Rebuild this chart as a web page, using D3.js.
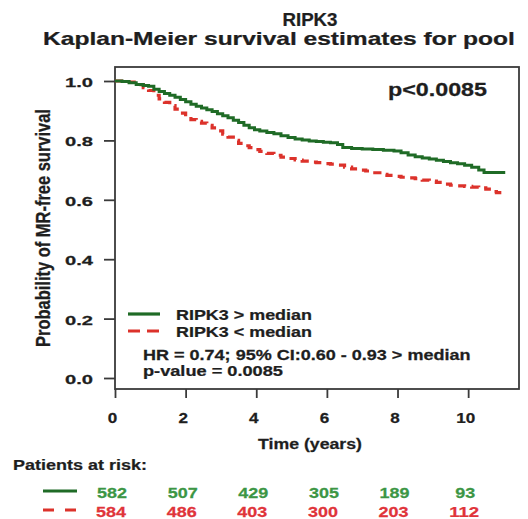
<!DOCTYPE html>
<html>
<head>
<meta charset="utf-8">
<script src="https://cdn.jsdelivr.net/npm/d3@7"></script>
<style>
  html, body { margin: 0; padding: 0; background: #fff; }
  svg { display: block; font-family: "Liberation Sans", Arial, sans-serif; font-weight: bold; }
</style>
</head>
<body>
<svg id="chart" width="528" height="519"></svg>
<script>
// ---- data ----
const highTimes = [0, 0.2, 0.4, 0.6, 0.8, 0.95, 1.1, 1.25, 1.4, 1.55, 1.7, 1.85, 2.0, 2.15, 2.3, 2.45, 2.6, 2.75, 2.9, 3.05, 3.2, 3.35, 3.5, 3.65, 3.8, 3.95, 4.1, 4.3, 4.5, 4.7, 4.9, 5.1, 5.3, 5.5, 5.7, 5.9, 6.1, 6.3, 6.45, 6.7, 7.0, 7.3, 7.6, 7.9, 8.1, 8.3, 8.5, 8.7, 8.9, 9.1, 9.3, 9.5, 9.7, 9.9, 10.1, 10.3, 10.45, 11.05];
const highSurv  = [1.0, 0.998, 0.994, 0.988, 0.985, 0.982, 0.972, 0.965, 0.958, 0.952, 0.945, 0.938, 0.930, 0.922, 0.915, 0.909, 0.903, 0.897, 0.890, 0.883, 0.876, 0.868, 0.860, 0.851, 0.843, 0.836, 0.832, 0.827, 0.822, 0.816, 0.810, 0.805, 0.801, 0.798, 0.796, 0.794, 0.792, 0.786, 0.776, 0.773, 0.771, 0.769, 0.767, 0.764, 0.758, 0.751, 0.745, 0.741, 0.737, 0.733, 0.729, 0.725, 0.721, 0.716, 0.710, 0.700, 0.692, 0.692];
const lowTimes  = [0, 0.3, 0.6, 0.8, 0.95, 1.1, 1.25, 1.4, 1.55, 1.7, 1.85, 2.0, 2.15, 2.3, 2.45, 2.6, 2.75, 2.9, 3.05, 3.2, 3.35, 3.5, 3.65, 3.8, 3.95, 4.1, 4.3, 4.5, 4.7, 4.9, 5.1, 5.3, 5.5, 5.7, 5.9, 6.1, 6.3, 6.5, 6.7, 6.9, 7.1, 7.3, 7.5, 7.7, 7.9, 8.1, 8.3, 8.5, 8.7, 8.9, 9.1, 9.3, 9.5, 9.7, 9.9, 10.1, 10.3, 10.5, 10.7, 10.8, 10.95];
const lowSurv   = [1.0, 0.996, 0.988, 0.978, 0.968, 0.952, 0.940, 0.928, 0.917, 0.905, 0.892, 0.880, 0.870, 0.864, 0.858, 0.851, 0.842, 0.832, 0.821, 0.811, 0.800, 0.790, 0.782, 0.776, 0.769, 0.763, 0.756, 0.750, 0.744, 0.739, 0.734, 0.730, 0.727, 0.725, 0.722, 0.720, 0.717, 0.710, 0.704, 0.700, 0.697, 0.691, 0.686, 0.682, 0.679, 0.676, 0.674, 0.671, 0.666, 0.663, 0.659, 0.653, 0.649, 0.647, 0.645, 0.643, 0.640, 0.636, 0.628, 0.624, 0.623];
const xTicks = [0, 2, 4, 6, 8, 10];
const yTicks = [0.0, 0.2, 0.4, 0.6, 0.8, 1.0];
const riskTimes = [0, 2, 4, 6, 8, 10];
const riskHigh = [582, 507, 429, 305, 189, 93];
const riskLow  = [584, 486, 403, 300, 203, 112];
const seriesNames = ["RIPK3 > median", "RIPK3 < median"];
const titleLines = ["RIPK3", "Kaplan-Meier survival estimates for pool"];
const statLines = ["HR = 0.74; 95% CI:0.60 - 0.93 > median", "p-value = 0.0085"];
const pLabel = "p<0.0085";

// ---- styles ----
const GREEN = "#1f6b26", RED = "#dc322b";
const GREEN_T = "#3c9645", RED_T = "#e0343a";
const INK = "#1e1e1e", FRAME = "#3a3a3a";

const svg = d3.select("#chart");
const x = d3.scaleLinear().domain([0, 11.44]).range([115, 519]);
const y = d3.scaleLinear().domain([0, 1]).range([378, 81]);
const yTop = 67, yBot = 389;

// text helper: draws text then stretches horizontally to target width
function txt(px, py, str, size, anchor, width, color) {
  const t = svg.append("text")
    .attr("font-size", size)
    .attr("text-anchor", anchor || "start")
    .attr("fill", color || INK)
    .attr("stroke", color || INK)
    .attr("stroke-width", 0.25)
    .text(str);
  const L = t.node().getComputedTextLength();
  const sx = width ? width / L : 1.25;
  t.attr("transform", `translate(${px},${py}) scale(${sx},1)`);
  return t;
}

// titles
txt(310, 26, titleLines[0], 17.5, "middle", 55);
txt(279, 45, titleLines[1], 18, "middle", 472);

// frame
svg.append("rect")
  .attr("x", x(0)).attr("y", yTop)
  .attr("width", x.range()[1] - x(0)).attr("height", yBot - yTop)
  .attr("fill", "none").attr("stroke", FRAME).attr("stroke-width", 1.8);

// y axis
const yAxis = d3.axisLeft(y).tickValues(yTicks).tickSize(11).tickFormat(() => "");
const gy = svg.append("g").attr("transform", `translate(${x(0)},0)`).call(yAxis);
gy.select(".domain").remove();
gy.selectAll(".tick line").attr("stroke", FRAME).attr("stroke-width", 1.8);
yTicks.forEach(v => txt(93, y(v) + 6, d3.format(".1f")(v), 13, "end", 28));

// x axis
const xAxis = d3.axisBottom(x).tickValues(xTicks).tickSize(9).tickFormat(() => "");
const gx = svg.append("g").attr("transform", `translate(0,${yBot})`).call(xAxis);
gx.select(".domain").remove();
gx.selectAll(".tick line").attr("stroke", FRAME).attr("stroke-width", 1.8);
xTicks.forEach(v => txt(x(v) - 2.5, 423, String(v), 14, "middle", String(v).length * 9.5));

// axis titles
txt(310, 449, "Time (years)", 14.5, "middle", 104);
const yl = svg.append("text")
  .attr("font-size", 16).attr("text-anchor", "middle").attr("fill", INK)
  .attr("stroke", INK).attr("stroke-width", 0.25)
  .text("Probability of MR-free survival");
const yLen = yl.node().getComputedTextLength();
yl.attr("transform", `translate(50,228) rotate(-90) scale(${238 / yLen},1.25)`);

// curves
const line = d3.line().x(d => x(d[0])).y(d => y(d[1])).curve(d3.curveStepAfter);
const highData = highTimes.map((t, i) => [t, highSurv[i]]);
const lowData = lowTimes.map((t, i) => [t, lowSurv[i]]);
svg.append("path").datum(lowData).attr("d", line)
  .attr("fill", "none").attr("stroke", RED).attr("stroke-width", 3.2)
  .attr("stroke-dasharray", "8,6");
svg.append("path").datum(highData).attr("d", line)
  .attr("fill", "none").attr("stroke", GREEN).attr("stroke-width", 3);

// p label
txt(487, 96, pLabel, 18, "end", 99);

// legend
svg.append("line").attr("x1", 128).attr("x2", 160).attr("y1", 314).attr("y2", 314)
  .attr("stroke", GREEN).attr("stroke-width", 3.2);
svg.append("line").attr("x1", 128).attr("x2", 160).attr("y1", 331).attr("y2", 331)
  .attr("stroke", RED).attr("stroke-width", 3.2).attr("stroke-dasharray", "12,7");
txt(176, 320, seriesNames[0], 14, "start", 136);
txt(176, 337, seriesNames[1], 14, "start", 136);
txt(143, 360, statLines[0], 14, "start", 328);
txt(143, 376, statLines[1], 14, "start", 140);

// risk table
txt(13, 470, "Patients at risk:", 15.5, "start", 134);
svg.append("line").attr("x1", 43).attr("x2", 77).attr("y1", 491).attr("y2", 491)
  .attr("stroke", GREEN).attr("stroke-width", 3);
svg.append("line").attr("x1", 43).attr("x2", 77).attr("y1", 510).attr("y2", 510)
  .attr("stroke", RED).attr("stroke-width", 3).attr("stroke-dasharray", "11,11");
riskTimes.forEach((t, i) => {
  const s1 = String(riskHigh[i]), s2 = String(riskLow[i]);
  txt(x(t) - 3, 498, s1, 15, "middle", s1.length * 10, GREEN_T);
  txt(x(t) - 4, 516.5, s2, 15, "middle", s2.length * 10, RED_T);
});
</script>
</body>
</html>
